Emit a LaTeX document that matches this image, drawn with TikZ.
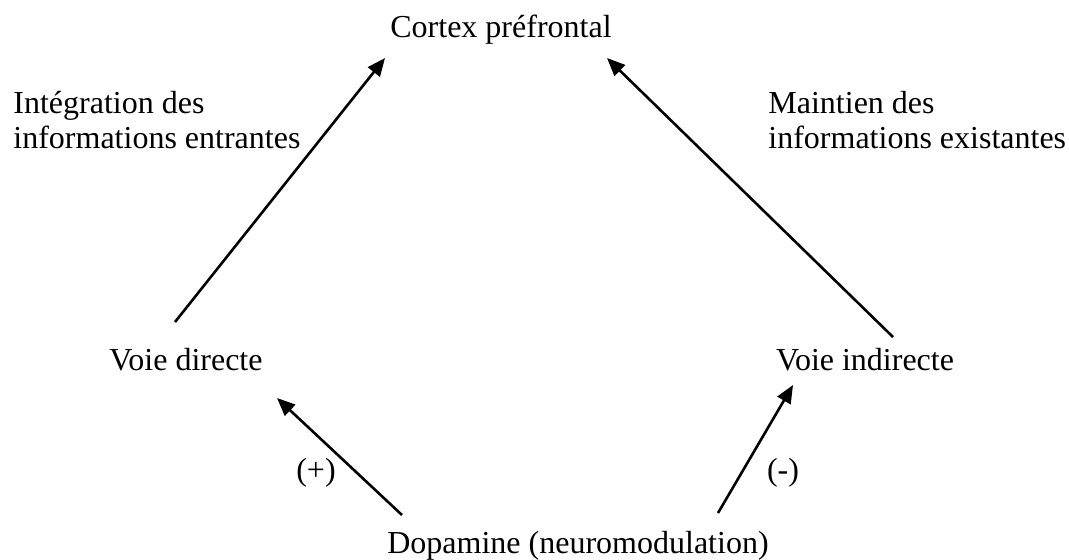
\documentclass[tikz,border=0pt]{standalone}
\usepackage{fontspec}
\setmainfont{Liberation Serif}
\usetikzlibrary{arrows.meta}
\tikzset{
  lbl/.style={inner sep=0pt, font=\fontsize{16}{18}\selectfont},
  fleche/.style={line width=1.3pt, -{Triangle[length=9pt,width=7.5pt]}}
}
\begin{document}
\begin{tikzpicture}[x=0.5pt,y=-0.5pt]
  \useasboundingbox (0,0) rectangle (1069,559);
  % texts
  \node[lbl,anchor=base] (cortex) at (501,37) {Cortex préfrontal};
  \node[lbl,anchor=base west] (integ) at (13,113) {Intégration des};
  \node[lbl,anchor=base west] (integb) at (13,148) {informations entrantes};
  \node[lbl,anchor=base west] (maint) at (768,113) {Maintien des};
  \node[lbl,anchor=base west] (maintb) at (768,148) {informations existantes};
  \node[lbl,anchor=base] (directe) at (186,370) {Voie directe};
  \node[lbl,anchor=base] (indirecte) at (865,370) {Voie indirecte};
  \node[lbl,anchor=base] (dopa) at (578,553) {Dopamine (neuromodulation)};
  \node[lbl,anchor=base] (plus) at (316,480) {(+)};
  \node[lbl,anchor=base] (moins) at (783,480) {(-)};

  % arrow ends
  \coordinate (cortex-l) at (385,58);
  \coordinate (cortex-r) at (607,58);
  \coordinate (directe-h) at (175,322);
  \coordinate (indirecte-h) at (893,337);
  \coordinate (directe-b) at (277,398);
  \coordinate (indirecte-b) at (793,385);
  \coordinate (dopa-l) at (402,515);
  \coordinate (dopa-r) at (718,513);

  \draw[fleche] (directe-h) -- (cortex-l);
  \draw[fleche] (indirecte-h) -- (cortex-r);
  \draw[fleche] (dopa-l) -- (directe-b);
  \draw[fleche] (dopa-r) -- (indirecte-b);
\end{tikzpicture}
\end{document}
